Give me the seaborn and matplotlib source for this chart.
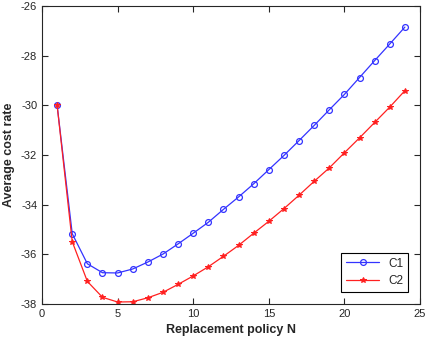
import numpy as np
import matplotlib
matplotlib.use('Agg')
import matplotlib.pyplot as plt
import seaborn as sns

# valeurs
N = list(range(1, 25))
c1 = [-30.0, -35.17, -36.38, -36.74, -36.75, -36.59, -36.31, -35.99, -35.58, -35.15,
      -34.71, -34.19, -33.69, -33.16, -32.59, -32.02, -31.42, -30.81, -30.18, -29.56,
      -28.88, -28.20, -27.53, -26.85]
c2 = [-30.0, -35.49, -37.09, -37.73, -37.92, -37.91, -37.75, -37.53, -37.21, -36.87,
      -36.50, -36.08, -35.64, -35.15, -34.67, -34.16, -33.62, -33.06, -32.52, -31.91,
      -31.31, -30.69, -30.07, -29.41]

sns.set_style('ticks')
plt.rcParams['font.family'] = ['Liberation Sans', 'DejaVu Sans']
plt.rcParams['axes.unicode_minus'] = False

fig = plt.figure(figsize=(4.27, 3.38), dpi=100)
ax = fig.add_axes([42/427, 1-304/338, 378/427, 298/338])

sns.lineplot(x=N, y=c1, ax=ax, color='#3333ff', marker='o', markersize=4.2,
             markerfacecolor='none', markeredgecolor='#3333ff', markeredgewidth=0.9,
             linewidth=0.9, label='C1')
sns.lineplot(x=N, y=c2, ax=ax, color='#ff2020', marker='*', markersize=4,
             markeredgecolor='#ff2020', linewidth=0.9, label='C2')

ax.set_xlim(0, 25)
ax.set_ylim(-38, -26)
ax.set_xticks([0, 5, 10, 15, 20, 25])
ax.set_yticks([-38, -36, -34, -32, -30, -28, -26])
ax.tick_params(direction='in', top=True, right=True, labelsize=8, length=4, width=0.8)
for s in ax.spines.values():
    s.set_visible(True)
    s.set_linewidth(0.8)
ax.set_xlabel('Replacement policy N', fontsize=9, fontweight='bold')
ax.set_ylabel('Average cost rate', fontsize=9, fontweight='bold')

leg = ax.legend(loc='lower right', fontsize=8.5, fancybox=False, framealpha=1,
                edgecolor='black', borderpad=0.4, handlelength=2.8,
                bbox_to_anchor=(0.985, 0.02))
leg.get_frame().set_linewidth(0.8)

fig.savefig('out.png', dpi=100)
